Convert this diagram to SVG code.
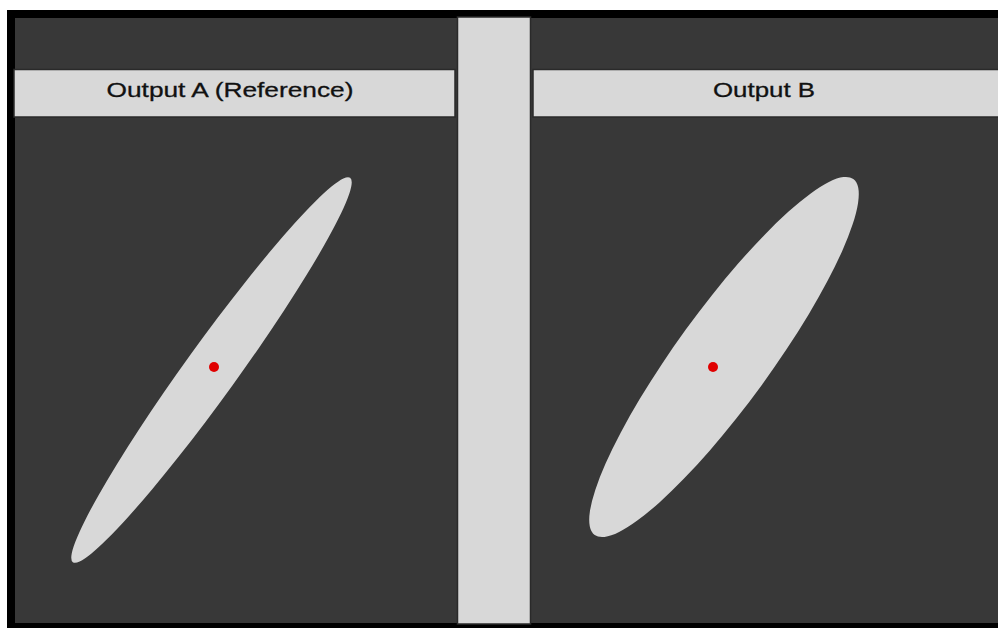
<svg xmlns="http://www.w3.org/2000/svg" width="998" height="628" viewBox="0 0 998 628">
  <style>
    .bar { fill: #d8d8d8; stroke: #2a2a2a; stroke-width: 1.5; }
    .shape { fill: #d8d8d8; }
    .dot { fill: #e00000; }
    .title { font-family: "Liberation Sans", Arial, sans-serif; font-size: 21px; fill: #111111; text-anchor: middle; stroke: #111111; stroke-width: 0.3; }
  </style>
  <rect x="0" y="0" width="998" height="628" fill="#ffffff"/>
  <rect x="7" y="10" width="995" height="622" fill="#000000"/>
  <rect x="15" y="18" width="990" height="605" fill="#383838"/>
  <g id="separator">
    <rect class="bar" x="457.5" y="17" width="73" height="607"/>
  </g>
  <g id="panel-a">
    <rect class="bar" x="14" y="69.5" width="441" height="47.5"/>
    <text class="title" x="230" y="97" textLength="247" lengthAdjust="spacingAndGlyphs">Output A (Reference)</text>
    <ellipse class="shape" cx="211.5" cy="370" rx="237" ry="26" transform="rotate(-54.2 211.5 370)"/>
    <circle class="dot" cx="214" cy="367" r="5"/>
  </g>
  <g id="panel-b">
    <rect class="bar" x="533" y="69.5" width="470" height="47.5"/>
    <text class="title" x="764" y="97" textLength="102" lengthAdjust="spacingAndGlyphs">Output B</text>
    <ellipse class="shape" cx="724" cy="357" rx="220" ry="47" transform="rotate(-54 724 357)"/>
    <circle class="dot" cx="713" cy="367" r="5"/>
  </g>
</svg>
